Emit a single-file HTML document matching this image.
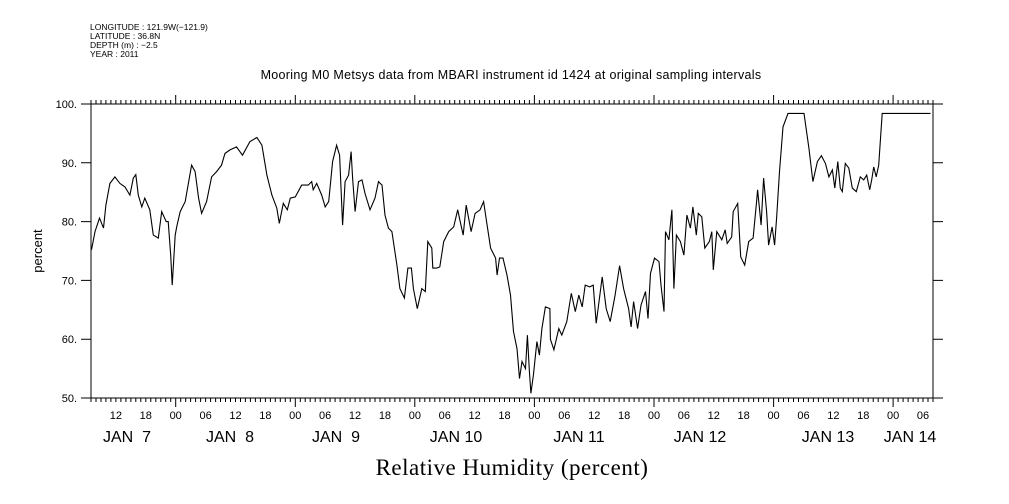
<!DOCTYPE html>
<html><head><meta charset="utf-8"><style>
html,body{margin:0;padding:0;background:#fff;}
svg{display:block;font-family:"Liberation Sans",sans-serif;}
</style></head><body>
<svg id="chart" width="1009" height="504" viewBox="0 0 1009 504" xmlns="http://www.w3.org/2000/svg">
<rect width="1009" height="504" fill="#fff"/>
<g font-size="8.5" fill="#000">
<text x="90" y="30">LONGITUDE : 121.9W(−121.9)</text>
<text x="90" y="39">LATITUDE : 36.8N</text>
<text x="90" y="48">DEPTH (m) : −2.5</text>
<text x="90" y="57">YEAR : 2011</text>
</g>
<text x="511" y="79" text-anchor="middle" font-size="12.5" letter-spacing="0.3">Mooring M0 Metsys data from MBARI instrument id 1424 at original sampling intervals</text>
<text transform="translate(42,251) rotate(-90)" text-anchor="middle" font-size="13">percent</text>
<text x="512" y="475" text-anchor="middle" font-family="'Liberation Serif',serif" font-size="23" letter-spacing="0.5">Relative Humidity (percent)</text>
<g id="axes"></g>
<path id="series" fill="none" stroke="#000" stroke-width="1.1"/>
</svg>
<script>
// hours since Jan 7 00:00
const hours=[7.1,7.8,8.7,9.5,10.0,10.8,11.8,12.8,13.8,14.8,15.5,16.0,16.5,17.2,17.8,18.8,19.5,20.5,21.2,22.1,22.5,23.0,23.3,23.9,24.2,24.9,25.9,26.6,27.2,27.9,28.6,29.2,30.2,31.2,32.2,33.2,33.9,34.9,36.2,37.4,38.9,40.3,41.3,42.3,43.3,44.3,44.8,45.6,46.4,47.0,48.0,49.3,50.6,51.3,51.6,52.3,53.3,54.0,54.7,55.5,56.3,56.9,57.5,58.0,58.7,59.2,59.5,60.0,60.7,61.4,62.0,63.0,64.0,64.7,65.4,66.0,66.7,67.4,68.4,69.0,69.9,70.6,71.3,71.7,72.5,73.4,74.1,74.6,75.4,75.6,76.4,77.0,77.8,78.8,79.8,80.6,81.1,81.7,82.3,83.3,84.1,85.1,85.8,86.5,87.2,88.2,88.5,89.0,89.7,90.5,91.2,91.8,92.5,93.0,93.5,94.2,94.6,95.0,95.3,95.8,96.5,97.0,97.5,98.2,99.1,99.2,99.9,100.9,101.5,102.5,103.4,104.2,104.9,105.6,106.2,107.1,107.8,108.4,109.6,110.4,111.2,112.2,113.1,113.9,114.9,115.4,115.9,116.7,117.4,118.3,118.8,119.3,120.1,121.0,121.4,122.0,122.3,123.0,123.6,124.0,124.5,125.3,126.0,126.6,127.3,127.8,128.5,128.9,129.6,130.2,131.1,131.6,131.9,132.6,133.6,134.3,134.7,135.6,135.9,136.8,137.4,138.2,139.0,139.9,140.6,140.8,141.5,142.0,142.6,143.0,143.7,144.2,144.6,145.2,145.9,146.9,150.1,151.1,151.9,152.8,153.6,154.4,155.1,155.8,156.3,156.9,157.4,157.8,158.4,159.1,159.8,160.6,161.4,162.1,162.7,163.3,163.7,164.1,164.6,165.1,165.8,175.5];
const humidity=[75.2,78.3,80.6,78.9,82.8,86.5,87.6,86.5,85.9,84.5,87.4,88.0,84.5,82.5,84.0,82.0,77.7,77.2,81.7,80.0,80.0,74.3,69.2,77.7,79.1,81.7,83.4,86.8,89.6,88.5,84.0,81.4,83.4,87.6,88.5,89.6,91.6,92.2,92.7,91.3,93.6,94.3,93.0,87.9,84.5,82.3,79.7,83.1,82.0,84.0,84.2,86.2,86.2,86.8,85.4,86.5,84.5,82.5,83.4,90.2,93.0,91.3,79.4,86.8,87.9,91.9,87.4,81.7,86.8,87.1,84.8,82.0,84.0,86.8,86.2,81.1,78.9,78.3,72.6,68.6,67.0,72.1,72.1,68.6,65.2,68.6,68.1,76.6,75.5,72.1,72.1,72.3,76.6,78.3,79.1,82.0,80.0,77.7,82.8,78.3,81.4,82.0,83.4,79.4,75.5,73.8,70.9,73.8,73.8,70.9,67.5,61.3,58.4,53.3,56.2,55.0,60.7,54.5,50.8,53.9,59.6,57.3,61.8,65.5,65.2,60.0,58.2,61.8,60.7,63.0,67.8,64.7,67.5,65.5,69.2,68.9,69.2,62.7,70.6,65.2,63.0,67.5,72.5,68.6,65.2,62.1,66.4,61.8,65.8,68.1,63.5,71.2,73.8,73.2,69.2,64.7,78.3,76.9,82.0,68.6,77.7,76.6,74.3,81.1,78.9,82.5,77.7,81.4,80.8,75.5,76.6,78.3,71.8,78.3,76.9,78.6,76.3,77.4,81.7,83.1,74.0,72.6,76.6,77.2,83.4,85.4,79.4,87.4,81.7,76.0,79.1,76.0,80.6,88.5,96.1,98.4,98.4,92.5,86.8,90.2,91.2,89.9,87.6,88.8,85.7,90.2,85.7,85.1,89.9,89.1,85.7,85.1,87.6,87.1,87.9,85.4,87.1,89.3,87.6,89.6,98.4,98.4];
const yTicks=[50,60,70,80,90,100];
const hourLabels=["12","18","00","06","12","18","00","06","12","18","00","06","12","18","00","06","12","18","00","06","12","18","00","06","12","18","00","06"];
const dayLabels=["JAN  7","JAN  8","JAN  9","JAN 10","JAN 11","JAN 12","JAN 13","JAN 14"];
const dayLabelX=[127,230,336,456,579,700,828,910];

const L=91,R=933,T=104,B=398;
const H0=7,H1=176; // axis range in hours
const xs=h=>L+(h-H0)*(R-L)/(H1-H0);
const ys=v=>B-(v-50)*(B-T)/50;
const NS="http://www.w3.org/2000/svg";
const ax=document.getElementById('axes');
function mk(tag,attrs){const e=document.createElementNS(NS,tag);for(const k in attrs)e.setAttribute(k,attrs[k]);ax.appendChild(e);return e;}

const frame=mk('rect',{x:L,y:T,width:R-L,height:B-T,fill:'none',stroke:'#000','stroke-width':1});



let d='';
for(let h=H0;h<=H1;h++){
  const x=xs(h).toFixed(1);
  const major=h%24===0;
  const len=major?9:4;
  d+=`M${x} ${T}V${T-len}M${x} ${B}V${B+len}`;
}
yTicks.forEach(v=>{const y=ys(v).toFixed(1);d+=`M${L} ${y}H${L-10}M${R} ${y}H${R+10}`;});
const tk=mk('path',{d:d,stroke:'#000','stroke-width':1,fill:'none'});



yTicks.forEach(v=>{
  const t=mk('text',{x:L-14,y:ys(v)+4,'text-anchor':'end','font-size':11});
  t.textContent=v+'.';
  
  
});
hourLabels.forEach((s,i)=>{
  const h=12+6*i;
  const t=mk('text',{x:xs(h),y:419,'text-anchor':'middle','font-size':11});
  t.textContent=s;
  
  
});
dayLabels.forEach((s,i)=>{
  const t=mk('text',{x:dayLabelX[i],y:442,'text-anchor':'middle','font-size':16});
  t.setAttribute('style','white-space:pre');
  t.textContent=s;
  
  
});

let p='';
hours.forEach((h,i)=>{p+=(i?'L':'M')+xs(h).toFixed(1)+' '+ys(humidity[i]).toFixed(1);});
document.getElementById('series').setAttribute('d',p);
</script>
</body></html>
